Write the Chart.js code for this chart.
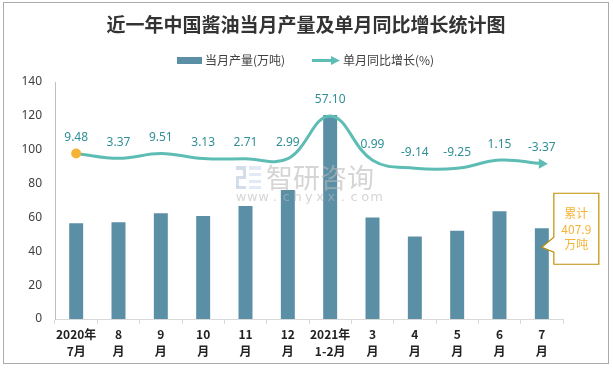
<!DOCTYPE html>
<html>
<head>
<meta charset="utf-8">
<script src="https://cdn.jsdelivr.net/npm/chart.js@4.4.0/dist/chart.umd.js"></script>
<style>
  body { margin: 0; background: #fff; }
  #wrap { width: 613px; height: 369px; position: relative; }
</style>
</head>
<body>
<div id="wrap"><canvas id="chart"></canvas></div>
<script>
// months (two-line labels)
const months = [
    ['2020年', '7月'], ['8', '月'], ['9', '月'], ['10', '月'], ['11', '月'], ['12', '月'],
    ['2021年', '1-2月'], ['3', '月'], ['4', '月'], ['5', '月'], ['6', '月'], ['7', '月']
];
// 当月产量 (万吨)
const output = [56.6, 57.2, 62.5, 60.8, 66.7, 76.2, 120.5, 59.9, 48.8, 52.2, 63.6, 53.6];
// 单月同比增长 (%)
const growth = [9.48, 3.37, 9.51, 3.13, 2.71, 2.99, 57.10, 0.99, -9.14, -9.25, 1.15, -3.37];

const BAR = '#5b8fa6';
const LINE = '#5dbdb4';
const LABEL = '#2f8f96';
const GOLD = '#f5b335';
const FONT = '"Noto Sans CJK SC", "Noto Sans", sans-serif';

const last = growth.length - 1;
const ptRadius = growth.map((v, i) => i === 0 ? 5 : (i === last ? 6 : 0));
const ptStyle = growth.map((v, i) => i === last ? 'triangle' : 'circle');
const ptRot = growth.map((v, i) => i === last ? 90 : 0);
const ptColor = growth.map((v, i) => i === 0 ? GOLD : LINE);

const decor = {
    id: 'decor',
    beforeDraw(chart) {
        const ctx = chart.ctx;
        ctx.save();
        ctx.fillStyle = '#fff';
        ctx.fillRect(0, 0, chart.width, chart.height);
        ctx.strokeStyle = '#ababab';
        ctx.lineWidth = 1;
        ctx.strokeRect(3.5, 2.5, 605, 361);
        ctx.restore();
    },
    afterDatasetsDraw(chart) {
        const ctx = chart.ctx;
        ctx.save();
        // watermark
        ctx.globalAlpha = 0.6;
        ctx.fillStyle = '#b7c6dc';
        ctx.fillRect(236, 166, 10, 4);
        ctx.fillRect(243, 170, 3, 6);
        ctx.fillRect(236, 176, 10, 3);
        ctx.fillRect(236, 179, 3, 8);
        ctx.fillRect(236, 186, 10, 3);
        ctx.fillStyle = '#cfdcee';
        ctx.fillRect(249, 166, 12, 4);
        ctx.fillRect(249, 173, 12, 3);
        ctx.fillRect(249, 180, 12, 3);
        ctx.fillRect(249, 186, 12, 3);
        ctx.fillStyle = '#b9b9b9';
        ctx.font = '27px ' + FONT;
        ctx.textAlign = 'left';
        ctx.textBaseline = 'middle';
        ctx.fillText('智研咨询', 266, 178);
        ctx.font = '13px "DejaVu Sans", sans-serif';
        ctx.textAlign = 'center';
        const site = 'www.chyxx.com';
        for (let i = 0; i < site.length; i++) {
            ctx.fillText(site[i], 241 + i * 11.3, 198);
        }
        ctx.globalAlpha = 1;

        // line value labels
        const lineMeta = chart.getDatasetMeta(0);
        ctx.fillStyle = LABEL;
        ctx.font = '12px "Noto Sans", sans-serif';
        ctx.textAlign = 'center';
        ctx.textBaseline = 'middle';
        lineMeta.data.forEach((pt, i) => {
            ctx.fillText(growth[i].toFixed(2), pt.x, pt.y - 16);
        });

        // cumulative callout on last bar
        const barMeta = chart.getDatasetMeta(1);
        const b = barMeta.data[barMeta.data.length - 1];
        const tx = b.x, ty = b.y + 19;
        const L = tx + 12, R = tx + 57, T = ty - 54, B = ty + 17;
        ctx.beginPath();
        ctx.moveTo(L, T);
        ctx.lineTo(R, T);
        ctx.lineTo(R, B);
        ctx.lineTo(L, B);
        ctx.lineTo(L, ty + 5);
        ctx.lineTo(tx, ty);
        ctx.lineTo(L, ty - 10);
        ctx.closePath();
        ctx.fillStyle = '#fff';
        ctx.fill();
        ctx.strokeStyle = '#bf9000';
        ctx.lineWidth = 1.2;
        ctx.stroke();
        ctx.fillStyle = GOLD;
        ctx.font = '12px ' + FONT;
        const cx = (L + R) / 2;
        ctx.fillText('累计', cx, T + 20);
        ctx.fillText('407.9', cx, T + 36);
        ctx.fillText('万吨', cx, T + 51);
        ctx.restore();
    },
    afterDraw(chart) {
        const ctx = chart.ctx;
        ctx.save();
        // title
        ctx.fillStyle = '#333';
        ctx.font = 'bold 19px ' + FONT;
        ctx.textAlign = 'center';
        ctx.textBaseline = 'middle';
        ctx.fillText('近一年中国酱油当月产量及单月同比增长统计图', 306, 25);
        // legend
        ctx.font = '12px ' + FONT;
        ctx.textAlign = 'left';
        ctx.fillStyle = BAR;
        ctx.fillRect(177, 57, 25, 7);
        ctx.fillStyle = '#404040';
        ctx.fillText('当月产量(万吨)', 205, 60);
        ctx.strokeStyle = LINE;
        ctx.lineWidth = 3;
        ctx.beginPath();
        ctx.moveTo(312, 60.5);
        ctx.lineTo(333, 60.5);
        ctx.stroke();
        ctx.fillStyle = LINE;
        ctx.beginPath();
        ctx.moveTo(331, 56);
        ctx.lineTo(340, 60.5);
        ctx.lineTo(331, 65);
        ctx.closePath();
        ctx.fill();
        ctx.fillStyle = '#404040';
        ctx.fillText('单月同比增长(%)', 343, 60);
        ctx.restore();
    }
};

new Chart(document.getElementById('chart'), {
    type: 'bar',
    data: {
        labels: months,
        datasets: [{
            type: 'line',
            label: '单月同比增长(%)',
            data: growth,
            yAxisID: 'y1',
            borderColor: LINE,
            borderWidth: 3,
            tension: 0.4,
            fill: false,
            pointRadius: ptRadius,
            pointStyle: ptStyle,
            pointRotation: ptRot,
            pointBackgroundColor: ptColor,
            pointBorderWidth: 0,
            order: 0
        }, {
            type: 'bar',
            label: '当月产量(万吨)',
            data: output,
            yAxisID: 'y',
            backgroundColor: BAR,
            barPercentage: 0.33,
            categoryPercentage: 1,
            order: 1
        }]
    },
    options: {
        responsive: true,
        maintainAspectRatio: false,
        animation: false,
        layout: { padding: { top: 82, right: 50, bottom: 10, left: 0 } },
        plugins: {
            legend: { display: false },
            title: { display: false },
            tooltip: { enabled: false }
        },
        scales: {
            x: {
                offset: true,
                afterFit: function(scale) { scale.height = 40; },
                grid: {
                    display: true,
                    drawOnChartArea: false,
                    drawTicks: true,
                    tickLength: 5,
                    color: '#d9d9d9',
                    offset: true
                },
                border: { color: '#d9d9d9', width: 1 },
                ticks: {
                    color: '#222',
                    font: { family: FONT, size: 12, weight: 'bold', lineHeight: 1.4 },
                    padding: 2,
                    maxRotation: 0,
                    autoSkip: false
                }
            },
            y: {
                position: 'left',
                min: 0,
                max: 140,
                afterFit: function(scale) { scale.width = 55; },
                grid: { display: false, drawTicks: false },
                border: { color: '#bfbfbf', width: 1 },
                ticks: {
                    stepSize: 20,
                    color: '#404040',
                    font: { family: '"Noto Sans", sans-serif', size: 12 },
                    padding: 13
                }
            },
            y1: {
                position: 'right',
                min: -200,
                max: 100,
                display: false
            }
        }
    },
    plugins: [decor]
});
</script>
</body>
</html>
